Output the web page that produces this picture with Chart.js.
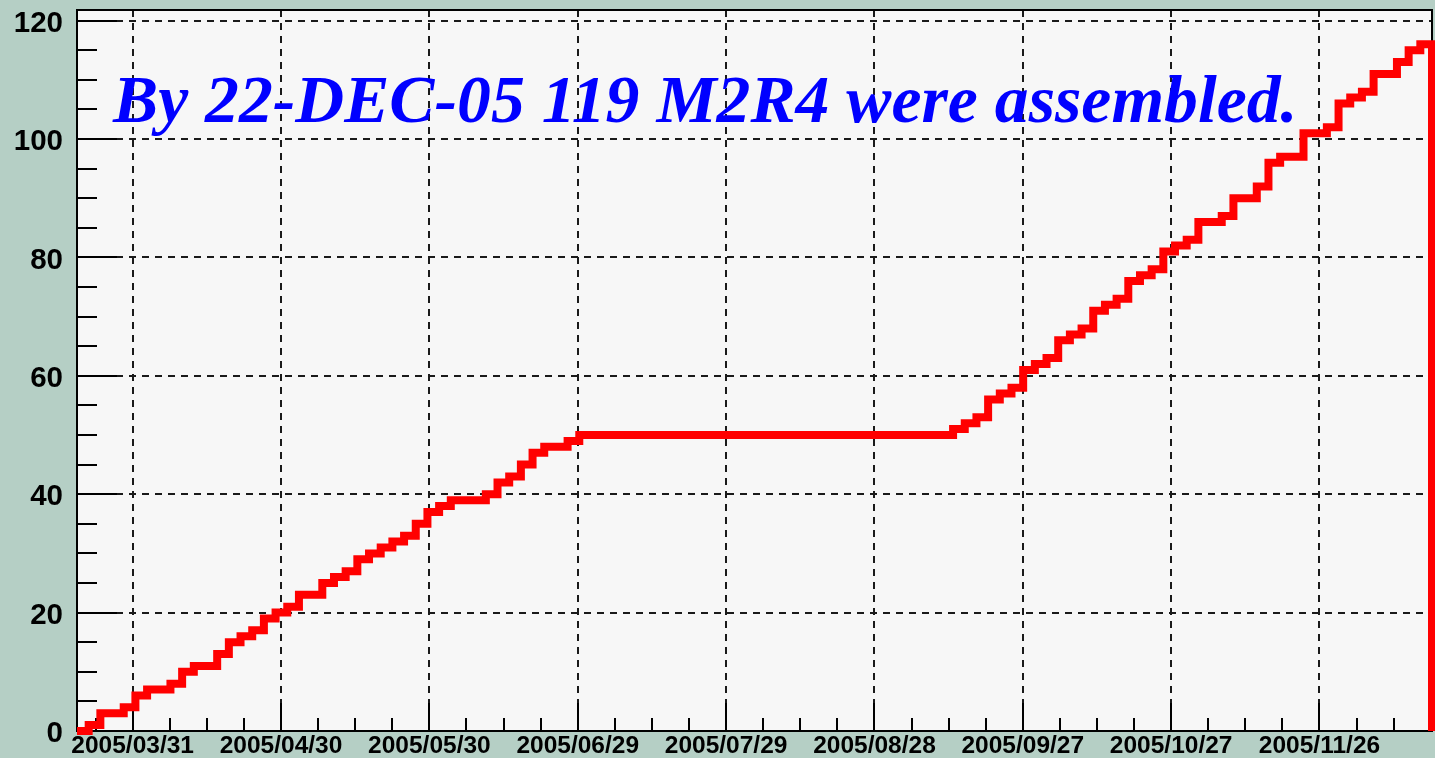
<!DOCTYPE html>
<html>
<head>
<meta charset="utf-8">
<script src="https://cdn.jsdelivr.net/npm/chart.js@4.4.1/dist/chart.umd.min.js"></script>
<style>
  html, body { margin: 0; padding: 0; background: #b5cfc5; overflow: hidden; }
  canvas { display: block; }
</style>
</head>
<body>
<canvas id="c" width="1435" height="758"></canvas>
<script>
// ---------------- data ----------------
const tickLabels = ['2005/03/31', '2005/04/30', '2005/05/30', '2005/06/29', '2005/07/29',
                    '2005/08/28', '2005/09/27', '2005/10/27', '2005/11/26'];
const yTickValues = [0, 20, 40, 60, 80, 100, 120];
// histogram range, in days since 2005-01-01
const histStartDay = 77.74;
const histEndDay = 351.75;
const yMax = 121.8;
// cumulative number of assembled M2R4 per bin
const cumulativeCounts = [
  0, 1, 3, 3, 4, 6, 7, 7, 8, 10, 11, 11, 13, 15, 16, 17, 19, 20, 21, 23, 23, 25,
  26, 27, 29, 30, 31, 32, 33, 35, 37, 38, 39, 39, 39, 40, 42, 43, 45, 47, 48, 48, 49, 50,
  50, 50, 50, 50, 50, 50, 50, 50, 50, 50, 50, 50, 50, 50, 50, 50, 50, 50, 50, 50,
  50, 50, 50, 50, 50, 50, 50, 50, 50, 50, 50,
  51, 52, 53, 56, 57, 58, 61, 62, 63, 66, 67, 68, 71, 72, 73, 76, 77, 78, 81, 82, 83,
  86, 86, 87, 90, 90, 92, 96, 97, 97, 101, 101, 102, 106, 107, 108, 111, 111, 113, 115, 116
];
const titleText = 'By 22-DEC-05 119 M2R4 were assembled.';

// ---------------- helpers ----------------
function labelToDay(s) {
  const [y, m, d] = s.split('/').map(Number);
  return (Date.UTC(y, m - 1, d) - Date.UTC(2005, 0, 1)) / 864e5;
}
const tickDays = tickLabels.map(labelToDay);
const binWidth = (histEndDay - histStartDay) / cumulativeCounts.length;
const points = cumulativeCounts.map((c, i) => ({ x: histStartDay + i * binWidth, y: c }));
points.push({ x: histEndDay, y: 0 });

const BG = '#b5cfc5';
const PLOT_BG = '#f7f7f7';

const rootStyle = {
  id: 'rootStyle',
  beforeDraw(chart) {
    const { ctx, chartArea: a } = chart;
    ctx.save();
    ctx.fillStyle = BG;
    ctx.fillRect(0, 0, chart.width, chart.height);
    ctx.fillStyle = PLOT_BG;
    ctx.fillRect(a.left, a.top, a.right - a.left, a.bottom - a.top);
    ctx.restore();
  },
  beforeDatasetsDraw(chart) {
    const { ctx, chartArea: a } = chart;
    const xs = chart.scales.x, ys = chart.scales.y;
    ctx.save();
    ctx.strokeStyle = '#000';
    ctx.lineWidth = 2;
    ctx.setLineDash([]);
    ctx.beginPath();
    // y ticks
    for (let v = 0; v <= yMax; v += 5) {
      const py = Math.round(ys.getPixelForValue(v));
      const len = (v % 20 === 0) ? 40 : 20;
      ctx.moveTo(a.left, py); ctx.lineTo(a.left + len, py);
    }
    // x ticks
    const step = 7.5;
    let v0 = tickDays[0];
    while (v0 - step >= xs.min) v0 -= step;
    for (let v = v0; v <= xs.max + 0.01; v += step) {
      const px = Math.round(xs.getPixelForValue(v));
      const isMajor = tickDays.some(d => Math.abs(d - v) < 0.01);
      const len = isMajor ? 28 : 13;
      ctx.moveTo(px, a.bottom); ctx.lineTo(px, a.bottom - len);
    }
    ctx.stroke();
    // frame
    ctx.strokeRect(a.left, a.top, a.right - a.left, a.bottom - a.top);
    ctx.restore();
  },
  afterDraw(chart) {
    const { ctx, chartArea: a } = chart;
    ctx.save();
    ctx.font = 'italic bold 67.7px "Liberation Serif"';
    ctx.fillStyle = '#0000ff';
    ctx.textAlign = 'left';
    ctx.textBaseline = 'alphabetic';
    ctx.fillText(titleText, a.left + 36, a.top + 112);
    ctx.restore();
  }
};

new Chart(document.getElementById('c'), {
  type: 'line',
  data: {
    datasets: [{
      data: points,
      stepped: 'before',
      borderColor: '#ff0000',
      borderWidth: 8,
      borderJoinStyle: 'miter',
      borderCapStyle: 'butt',
      pointRadius: 0,
      fill: false,
      tension: 0,
      clip: false
    }]
  },
  options: {
    responsive: false,
    devicePixelRatio: 1,
    animation: false,
    events: [],
    layout: { padding: { top: 10, right: 3, left: 0, bottom: 0 } },
    plugins: { legend: { display: false }, tooltip: { enabled: false }, title: { display: false } },
    scales: {
      x: {
        type: 'linear',
        min: histStartDay,
        max: histEndDay,
        afterBuildTicks: s => { s.ticks = tickDays.map(v => ({ value: v })); },
        afterFit: s => { s.height = 27; s.paddingLeft = 0; s.paddingRight = 0; },
        ticks: {
          autoSkip: false,
          maxRotation: 0,
          minRotation: 0,
          padding: 1,
          color: '#000',
          font: { family: '"Liberation Sans", Arial, sans-serif', weight: 'bold', size: 24.5 },
          callback: (value, index) => tickLabels[index]
        },
        grid: { color: '#1a1a1a', lineWidth: 2, drawTicks: false },
        border: { display: false, dash: [7, 6] }
      },
      y: {
        type: 'linear',
        min: 0,
        max: yMax,
        afterBuildTicks: s => { s.ticks = yTickValues.map(v => ({ value: v })); },
        afterFit: s => { s.width = 77; s.paddingTop = 0; s.paddingBottom = 0; },
        ticks: {
          padding: 14,
          labelOffset: 3,
          color: '#000',
          font: { family: '"Liberation Sans", Arial, sans-serif', weight: 'bold', size: 29.5 },
          callback: v => String(v)
        },
        grid: { color: '#1a1a1a', lineWidth: 2, drawTicks: false },
        border: { display: false, dash: [7, 6] }
      }
    }
  },
  plugins: [rootStyle]
});
</script>
</body>
</html>
